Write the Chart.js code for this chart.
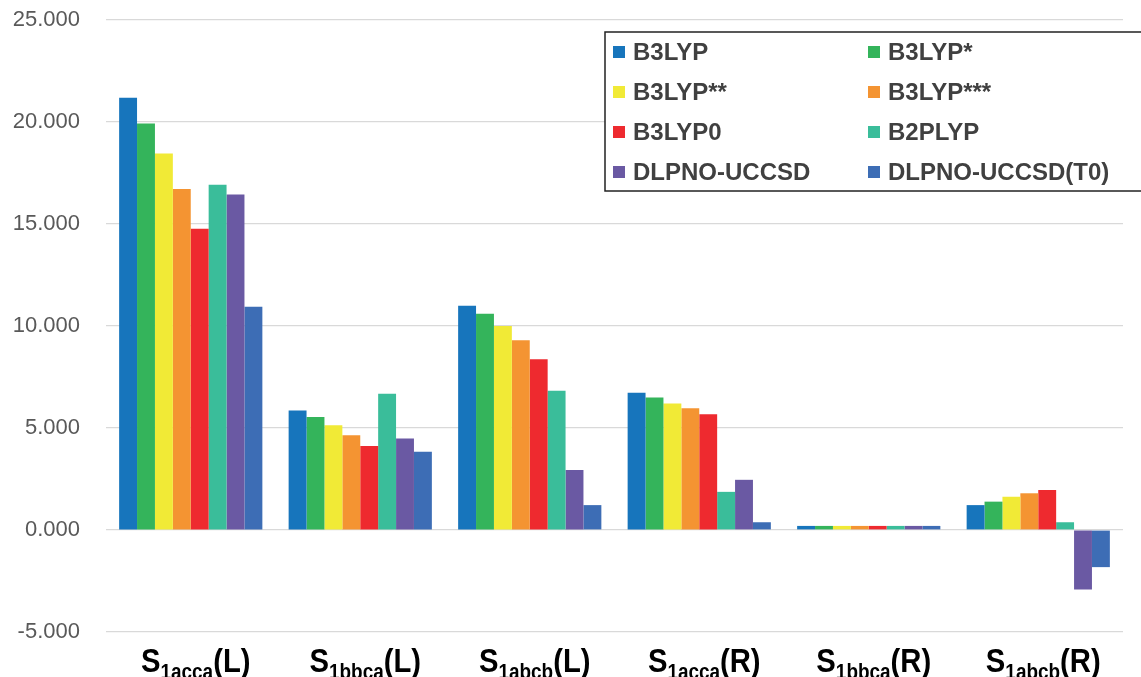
<!DOCTYPE html>
<html>
<head>
<meta charset="utf-8">
<script src="https://cdn.jsdelivr.net/npm/chart.js@4.4.0/dist/chart.umd.min.js"></script>
<style>
  html, body { margin: 0; padding: 0; background: #fff; }
  #wrap { width: 1141px; height: 677px; }
</style>
</head>
<body>
<div id="wrap"><canvas id="myChart" width="1141" height="677"></canvas></div>
<script>
// categories: S + subscript + suffix
var catMain = ['S', 'S', 'S', 'S', 'S', 'S'];
var catSub = ['1acca', '1bbca', '1abcb', '1acca', '1bbca', '1abcb'];
var catSuffix = ['(L)', '(L)', '(L)', '(R)', '(R)', '(R)'];

var seriesNames = ['B3LYP', 'B3LYP*', 'B3LYP**', 'B3LYP***', 'B3LYP0', 'B2PLYP', 'DLPNO-UCCSD', 'DLPNO-UCCSD(T0)'];
var seriesColors = ['#1775bc', '#34b45b', '#f1ea36', '#f49432', '#ee2a2f', '#3abd9a', '#6a59a3', '#3d6db5'];

var b3lyp      = [21.19, 5.86, 10.99, 6.73, 0.20, 1.22];
var b3lypS     = [19.93, 5.54, 10.60, 6.50, 0.20, 1.39];
var b3lypSS    = [18.45, 5.13, 10.00, 6.20, 0.20, 1.63];
var b3lypSSS   = [16.72, 4.65, 9.30, 5.97, 0.20, 1.80];
var b3lyp0     = [14.77, 4.12, 8.37, 5.68, 0.20, 1.96];
var b2plyp     = [16.92, 6.68, 6.82, 1.87, 0.20, 0.38];
var dlpno      = [16.44, 4.49, 2.94, 2.46, 0.20, -2.92];
var dlpnoT0    = [10.94, 3.83, 1.22, 0.38, 0.20, -1.82];

var yTicks = [-5, 0, 5, 10, 15, 20, 25];

var allSeries = [b3lyp, b3lypS, b3lypSS, b3lypSSS, b3lyp0, b2plyp, dlpno, dlpnoT0];

var labels = catMain.map(function (m, i) { return m + catSub[i] + catSuffix[i]; });

var datasets = allSeries.map(function (vals, i) {
    return {
        label: seriesNames[i],
        data: vals,
        backgroundColor: seriesColors[i],
        borderWidth: 0,
        barPercentage: 1.0,
        categoryPercentage: 0.845
    };
});

// draws the subscripted category names under each group
var xLabelPlugin = {
    id: 'xLabels',
    afterDraw: function (chart) {
        var ctx = chart.ctx;
        var xs = chart.scales.x;
        ctx.save();
        ctx.fillStyle = '#000';
        ctx.textBaseline = 'alphabetic';
        for (var i = 0; i < labels.length; i++) {
            var cx = xs.getPixelForTick(i) + 5;
            var sx = 0.86;
            var bigFont = 'bold 34px Arial, "Liberation Sans"';
            var smallFont = 'bold 22px Arial, "Liberation Sans"';
            ctx.font = bigFont;
            var w1 = ctx.measureText(catMain[i]).width;
            var w3 = ctx.measureText(catSuffix[i]).width;
            ctx.font = smallFont;
            var w2 = ctx.measureText(catSub[i]).width;
            var total = (w1 + w2 + w3) * sx;
            ctx.save();
            ctx.translate(cx - total / 2, 0);
            ctx.scale(sx, 1);
            ctx.font = bigFont;
            ctx.fillText(catMain[i], 0, 672);
            ctx.font = smallFont;
            ctx.fillText(catSub[i], w1, 679);
            ctx.font = bigFont;
            ctx.fillText(catSuffix[i], w1 + w2, 672);
            ctx.restore();
        }
        ctx.restore();
    }
};

// two column boxed legend in the top right
var legendPlugin = {
    id: 'boxLegend',
    afterDraw: function (chart) {
        var ctx = chart.ctx;
        var left = 605, top = 32, right = 1145, bottom = 191;
        ctx.save();
        ctx.fillStyle = '#fff';
        ctx.fillRect(left, top, right - left, bottom - top);
        ctx.strokeStyle = '#222';
        ctx.lineWidth = 1.5;
        ctx.strokeRect(left, top, right - left, bottom - top);
        ctx.font = 'bold 24px Arial, "Liberation Sans"';
        ctx.textBaseline = 'middle';
        chart.data.datasets.forEach(function (ds, i) {
            var col = i % 2, row = Math.floor(i / 2);
            var x = col === 0 ? 613 : 868;
            var y = 52 + row * 40;
            ctx.fillStyle = ds.backgroundColor;
            ctx.fillRect(x, y - 6, 12, 12);
            ctx.fillStyle = '#404040';
            ctx.fillText(ds.label, x + 20, y + 1);
        });
        ctx.restore();
    }
};

const config = {
    type: 'bar',
    data: { labels: labels, datasets: datasets },
    options: {
        responsive: false,
        animation: false,
        layout: { padding: { top: 20, bottom: 37, right: 18, left: 0 } },
        plugins: {
            legend: { display: false },
            tooltip: { enabled: false }
        },
        scales: {
            x: {
                grid: { display: false },
                border: { display: false },
                ticks: { display: false }
            },
            y: {
                min: -5,
                max: 25,
                afterBuildTicks: function (scale) {
                    scale.ticks = yTicks.map(function (v) { return { value: v }; });
                },
                afterFit: function (scale) {
                    scale.width = 106;
                    scale.paddingTop = 0;
                    scale.paddingBottom = 0;
                },
                grid: { color: '#d9d9d9', lineWidth: 1.2, drawTicks: false },
                border: { display: false },
                ticks: {
                    padding: 26,
                    color: '#595959',
                    font: { family: 'Arial, "Liberation Sans"', size: 22 },
                    callback: function (v) { return v.toFixed(3); }
                }
            }
        }
    },
    plugins: [xLabelPlugin, legendPlugin]
};

const myChart = new Chart(document.getElementById('myChart'), config);
</script>
</body>
</html>
